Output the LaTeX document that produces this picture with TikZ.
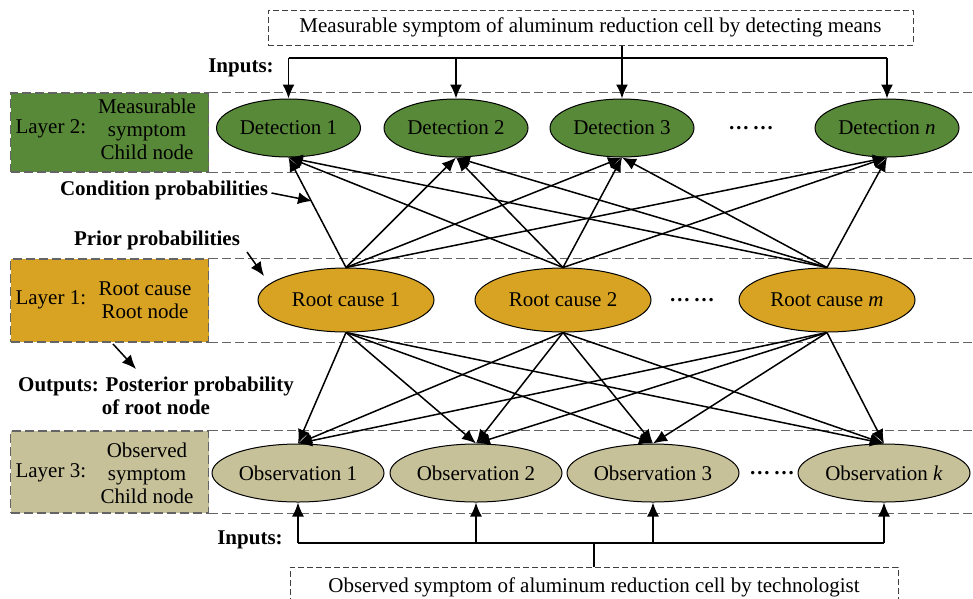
\documentclass[tikz,border=0pt]{standalone}
\usepackage{fontspec}
\setmainfont{Liberation Serif}
\usetikzlibrary{shapes.geometric,arrows.meta}
\definecolor{detgreen}{RGB}{88,137,56}
\definecolor{rootgold}{RGB}{216,163,34}
\definecolor{obskhaki}{RGB}{199,193,153}
\definecolor{bandgray}{RGB}{100,100,100}
\begin{document}
\begin{tikzpicture}[x=1pt,y=-1pt,
 every node/.style={font=\fontsize{21}{23}\selectfont},
 ell/.style={ellipse,draw=black,line width=1pt,inner sep=0pt},
 det/.style={ell,fill=detgreen,minimum width=144pt,minimum height=58pt},
 root/.style={ell,fill=rootgold,minimum width=176pt,minimum height=64pt},
 obs/.style={ell,fill=obskhaki,minimum width=172pt,minimum height=58pt},
 band/.style={draw=bandgray,dash pattern=on 9pt off 4pt,line width=1.4pt},
 lbox/.style={band,inner sep=0pt,minimum width=198pt},
 tbox/.style={draw=black!75,dash pattern=on 6pt off 3pt,line width=1pt,inner sep=0pt},
 arr/.style={-{Latex[length=14pt,width=12pt]},line width=1.5pt},
 line/.style={line width=1.5pt},
 lbl/.style={font=\fontsize{21}{23}\selectfont\bfseries},
 ]
\useasboundingbox (0,0) rectangle (973,598);
\coordinate (rightedge) at (973,0);

% layer bands
\node[lbox,fill=detgreen,minimum height=79pt] (L2) at (109.5,132.5) {};
\node[lbox,fill=rootgold,minimum height=83pt] (L1) at (109.5,300.5) {};
\node[lbox,fill=obskhaki,minimum height=82pt] (L3) at (109.5,472) {};
\foreach \L in {L2,L1,L3}{
  \draw[band] (\L.north east) -- (\L.north east -| rightedge);
  \draw[band] (\L.south east) -- (\L.south east -| rightedge);
}

% layer labels
\node[anchor=west] (l2a) at (12,129) {Layer 2:};
\node[align=center] (l2b) at (147,129) {Measurable\\symptom\\Child node};
\node[anchor=west] (l1a) at (12,300) {Layer 1:};
\node[align=center] (l1b) at (145,300) {Root cause\\Root node};
\node[anchor=west] (l3a) at (12,473) {Layer 3:};
\node[align=center] (l3b) at (147,473) {Observed\\symptom\\Child node};

% nodes
\node[det] (d1) at (288.5,128) {Detection 1};
\node[det] (d2) at (456,128) {Detection 2};
\node[det] (d3) at (622,128) {Detection 3};
\node (ddots) at (751,128) {\textbf{\dots\,\dots}};
\node[det] (dn) at (887,128) {Detection \textit{n}};

\node[root] (r1) at (346,300) {Root cause 1};
\node[root] (r2) at (563,300) {Root cause 2};
\node (rdots) at (692,300) {\textbf{\dots\,\dots}};
\node[root] (rm) at (827,300) {Root cause \textit{m}};

\node[obs] (o1) at (298,473) {Observation 1};
\node[obs] (o2) at (476,473) {Observation 2};
\node[obs] (o3) at (653,473) {Observation 3};
\node (odots) at (772,473) {\textbf{\dots\,\dots}};
\node[obs] (ok) at (884,473) {Observation \textit{k}};

% top input box
\node[tbox,minimum width=645pt,minimum height=35pt] (tb) at (590.5,27.5) {Measurable symptom of aluminum reduction cell by detecting means};
\coordinate (tin) at (0,58);
\node[lbl] (inTop) at (241,68) {Inputs:};
\draw[line] (d1 |- tin) -- (dn |- tin);
\draw[line] (d3 |- tb.south) -- (d3 |- tin);
\foreach \d in {d1,d2,d3,dn}
  \draw[arr] (\d |- tin) -- (\d.north);

% bottom input box
\node[tbox,minimum width=608pt,minimum height=40pt] (bb) at (594,587) {Observed symptom of aluminum reduction cell by technologist};
\coordinate (bin) at (0,543);
\node[lbl] (inBot) at (250,540) {Inputs:};
\draw[line] (o1 |- bin) -- (ok |- bin);
\draw[line] (bb.north) -- (bb.north |- bin);
\foreach \o in {o1,o2,o3,ok}
  \draw[arr] (\o |- bin) -- (\o.south);

% network edges
\foreach \r in {r1,r2,rm}
  \foreach \d in {d1,d2,d3,dn}
    \draw[arr] (\r.north) -- (\d.south);
\foreach \r in {r1,r2,rm}
  \foreach \o in {o1,o2,o3,ok}
    \draw[arr] (\r.south) -- (\o.north);

% annotations
\node[lbl] (cond) at (164,190) {Condition probabilities};
\coordinate (condEnd) at (312,201);
\draw[arr] ([yshift=-3pt]cond.east) -- (condEnd);
\node[lbl] (prior) at (157,240) {Prior probabilities};
\coordinate (priorStart) at (247,252);
\coordinate (priorEnd) at (264,276);
\draw[arr] (priorStart) -- (priorEnd);
\node[lbl,align=center] (outp) at (156,396) {Outputs: Posterior probability\\of root node};
\coordinate (outStart) at (113,344);
\coordinate (outEnd) at (136,369);
\draw[arr] (outStart) -- (outEnd);
\end{tikzpicture}
\end{document}
